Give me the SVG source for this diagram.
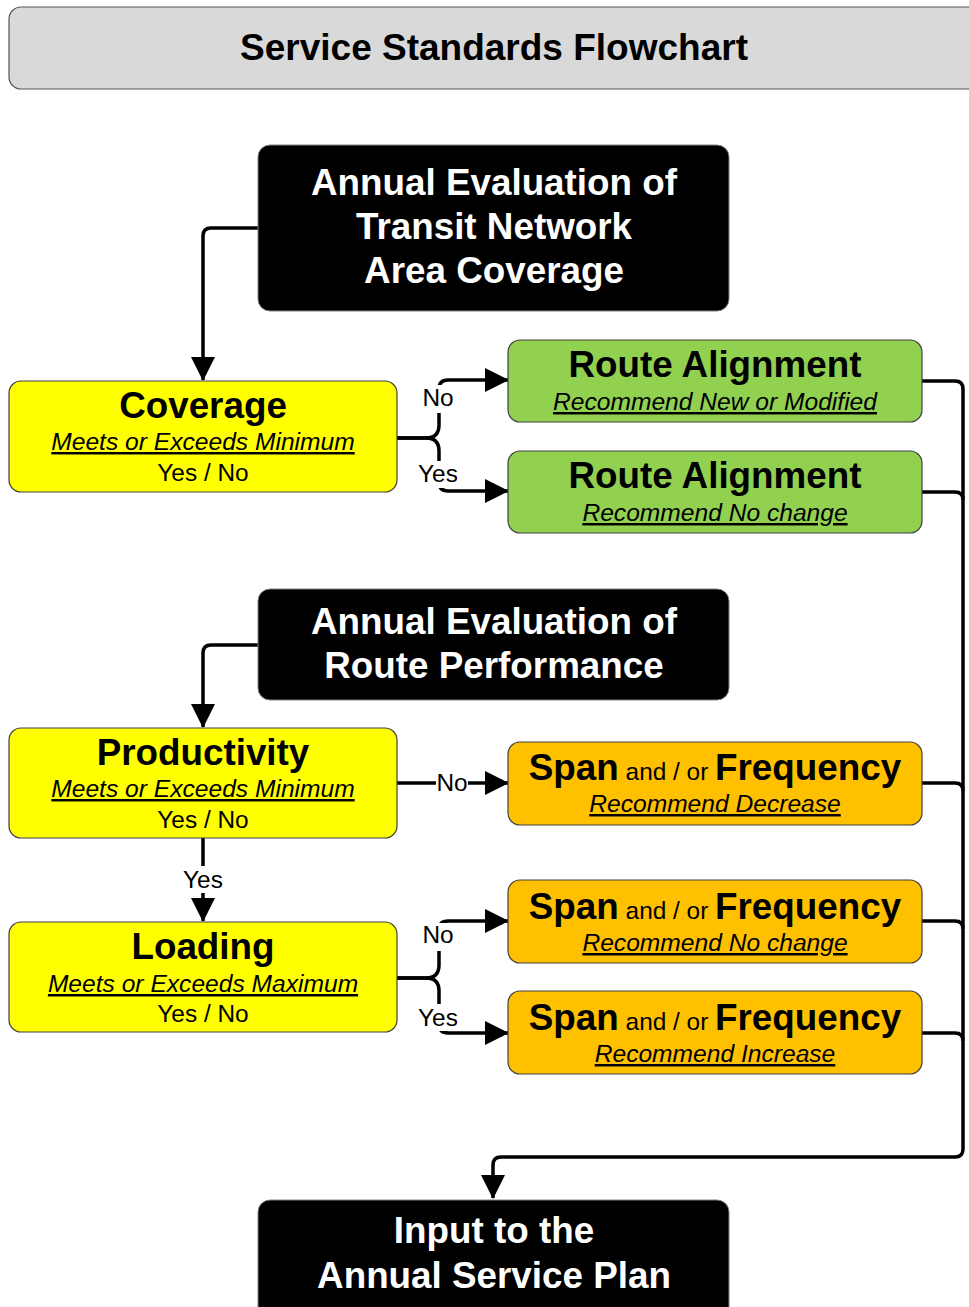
<svg xmlns="http://www.w3.org/2000/svg" width="969" height="1307" viewBox="0 0 969 1307">
<defs>
<marker id="ah" markerUnits="userSpaceOnUse" markerWidth="24" markerHeight="24" refX="23" refY="12" orient="auto">
<path d="M0,0 L24,12 L0,24 z" fill="#000"/>
</marker>
<style>
text{font-family:"Liberation Sans",Arial,sans-serif;text-anchor:middle}
.h{font-size:36.8px;font-weight:bold}
.t{font-size:37px;font-weight:bold}
.s{font-size:24.6px;font-style:italic;text-decoration:underline}
.n{font-size:24.4px}
.w{fill:#fff}
.blk{fill:#000;stroke:#808080;stroke-width:1}
.yel{fill:#FFFF00;stroke:#404040;stroke-width:1.2}
.grn{fill:#92D050;stroke:#404040;stroke-width:1.2}
.org{fill:#FFC000;stroke:#404040;stroke-width:1.2}
.c{fill:none;stroke:#000;stroke-width:3.5}
.a{marker-end:url(#ah)}
.lbg{fill:#fff}
</style>
</defs>
<rect x="0" y="0" width="969" height="1307" fill="#fff"/>

<g id="title">
<rect x="9" y="7" width="975" height="82" rx="12" fill="#D9D9D9" stroke="#555" stroke-width="1.2"/>
<text class="t" x="494" y="60">Service Standards Flowchart</text>
</g>

<g id="connectors">
<path class="c a" d="M258,228 H211 Q203,228 203,236 V380"/>
<path class="c a" d="M397,438 H426 Q439,438 439,425 V389 Q439,380 448,380 H508"/>
<path class="c a" d="M397,438 H426 Q439,438 439,451 V482 Q439,491 448,491 H508"/>
<path class="c a" d="M258,645 H211 Q203,645 203,653 V727"/>
<path class="c a" d="M397,783 H508"/>
<path class="c a" d="M203,838 V921"/>
<path class="c a" d="M397,978 H426 Q439,978 439,965 V930 Q439,921 448,921 H508"/>
<path class="c a" d="M397,978 H426 Q439,978 439,991 V1024 Q439,1033 448,1033 H508"/>
<path class="c" d="M922,381 H955 Q963,381 963,389 V1149"/>
<path class="c" d="M922,492 H955 Q963,492 963,500"/>
<path class="c" d="M922,783 H955 Q963,783 963,791"/>
<path class="c" d="M922,921 H955 Q963,921 963,929"/>
<path class="c" d="M922,1033 H955 Q963,1033 963,1041"/>
<path class="c a" d="M963,1149 Q963,1157 955,1157 H501 Q493,1157 493,1165 V1198"/>
<rect class="lbg" x="423" y="385" width="32" height="28"/>
<text class="n" x="438" y="406">No</text>
<rect class="lbg" x="416" y="461" width="46" height="27"/>
<text class="n" x="438" y="482">Yes</text>
<rect class="lbg" x="436" y="771" width="32" height="24"/>
<text class="n" x="452" y="791">No</text>
<rect class="lbg" x="180" y="866" width="46" height="27"/>
<text class="n" x="203" y="888">Yes</text>
<rect class="lbg" x="423" y="923" width="32" height="28"/>
<text class="n" x="438" y="943">No</text>
<rect class="lbg" x="416" y="1004" width="46" height="27"/>
<text class="n" x="438" y="1026">Yes</text>
</g>

<g id="eval-coverage">
<rect class="blk" x="258" y="145" width="471" height="166" rx="12"/>
<text class="h w" x="494" y="195">Annual Evaluation of</text>
<text class="h w" x="494" y="239">Transit Network</text>
<text class="h w" x="494" y="283">Area Coverage</text>
</g>

<g id="coverage">
<rect class="yel" x="9" y="381" width="388" height="111" rx="12"/>
<text class="h" x="203" y="418">Coverage</text>
<text class="s" x="203" y="450">Meets or Exceeds Minimum</text>
<text class="n" x="203" y="481">Yes / No</text>
</g>

<g id="route-new">
<rect class="grn" x="508" y="340" width="414" height="82" rx="12"/>
<text class="h" x="715" y="377">Route Alignment</text>
<text class="s" x="715" y="410">Recommend New or Modified</text>
</g>

<g id="route-nochange">
<rect class="grn" x="508" y="451" width="414" height="82" rx="12"/>
<text class="h" x="715" y="488">Route Alignment</text>
<text class="s" x="715" y="521">Recommend No change</text>
</g>

<g id="eval-performance">
<rect class="blk" x="258" y="589" width="471" height="111" rx="12"/>
<text class="h w" x="494" y="634">Annual Evaluation of</text>
<text class="h w" x="494" y="678">Route Performance</text>
</g>

<g id="productivity">
<rect class="yel" x="9" y="728" width="388" height="110" rx="12"/>
<text class="h" x="203" y="765">Productivity</text>
<text class="s" x="203" y="797">Meets or Exceeds Minimum</text>
<text class="n" x="203" y="828">Yes / No</text>
</g>

<g id="loading">
<rect class="yel" x="9" y="922" width="388" height="110" rx="12"/>
<text class="h" x="203" y="959">Loading</text>
<text class="s" x="203" y="992">Meets or Exceeds Maximum</text>
<text class="n" x="203" y="1022">Yes / No</text>
</g>

<g id="span-decrease">
<rect class="org" x="508" y="742" width="414" height="83" rx="12"/>
<text x="715" y="780"><tspan class="h">Span</tspan><tspan class="n"> and / or </tspan><tspan class="h">Frequency</tspan></text>
<text class="s" x="715" y="812">Recommend Decrease</text>
</g>

<g id="span-nochange">
<rect class="org" x="508" y="880" width="414" height="83" rx="12"/>
<text x="715" y="919"><tspan class="h">Span</tspan><tspan class="n"> and / or </tspan><tspan class="h">Frequency</tspan></text>
<text class="s" x="715" y="951">Recommend No change</text>
</g>

<g id="span-increase">
<rect class="org" x="508" y="991" width="414" height="83" rx="12"/>
<text x="715" y="1030"><tspan class="h">Span</tspan><tspan class="n"> and / or </tspan><tspan class="h">Frequency</tspan></text>
<text class="s" x="715" y="1062">Recommend Increase</text>
</g>

<g id="service-plan">
<rect class="blk" x="258" y="1200" width="471" height="120" rx="12"/>
<text class="h w" x="494" y="1243">Input to the</text>
<text class="h w" x="494" y="1288">Annual Service Plan</text>
</g>
</svg>
